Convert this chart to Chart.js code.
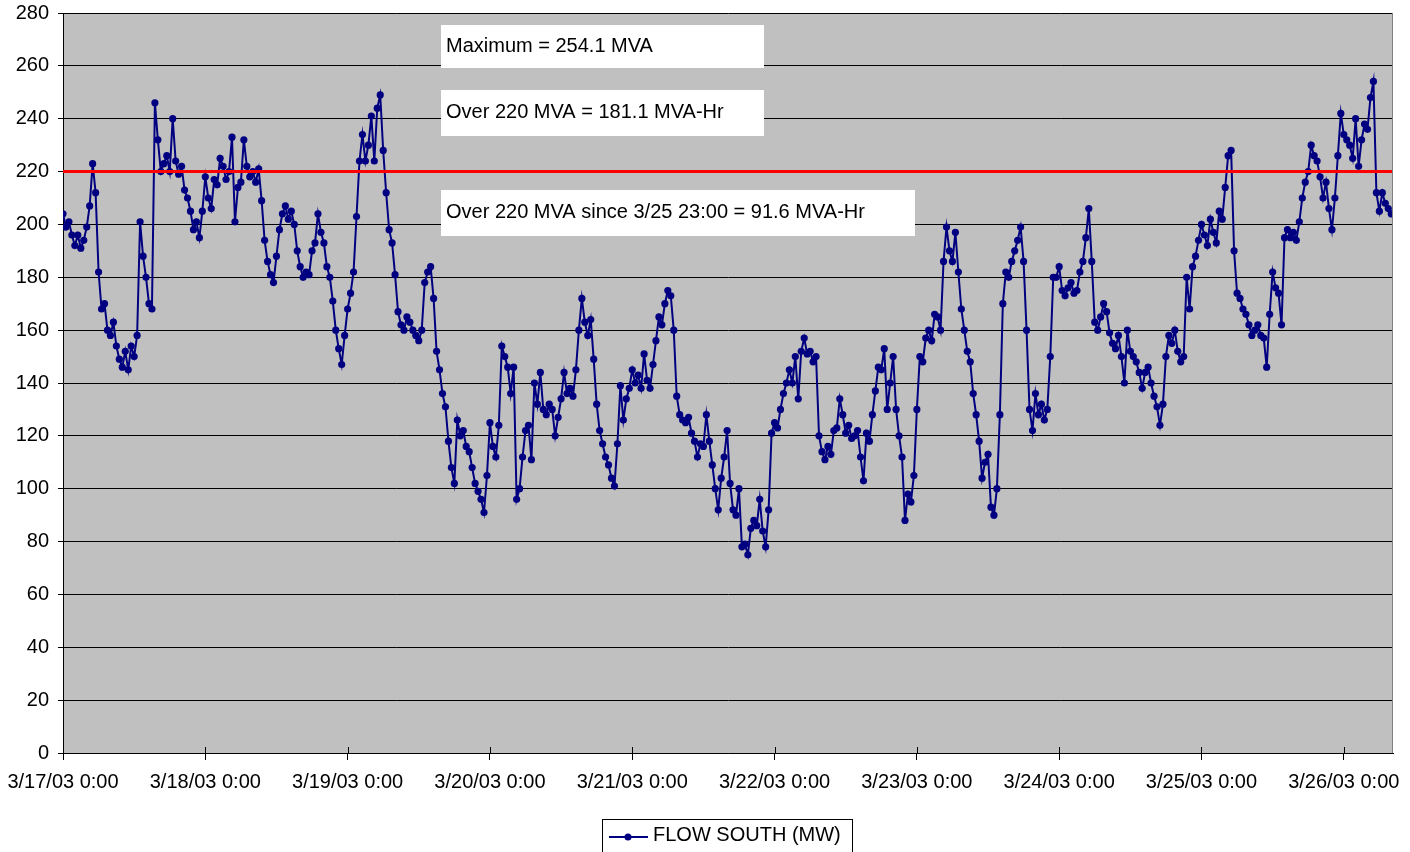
<!DOCTYPE html>
<html>
<head>
<meta charset="utf-8">
<title>FLOW SOUTH</title>
<script src="https://cdn.jsdelivr.net/npm/chart.js@4.4.0/dist/chart.umd.min.js"></script>
<style>
  html, body { margin: 0; padding: 0; background: #fff; }
  #wrap { width: 1410px; height: 852px; }
</style>
</head>
<body>
<div id="wrap"><canvas id="chart" width="1410" height="852"></canvas></div>
<script>
// half-hourly readings from 3/17/03 0:00 (index / 2 = hours since start)
var flowSouth = [
  204, 199, 201, 196, 192, 196, 191, 194, 199, 207,
  223, 212, 182, 168, 170, 160, 158, 163, 154, 149,
  146, 152, 145, 154, 150, 158, 201, 188, 180, 170,
  168, 246, 232, 220, 223, 226, 220, 240, 224, 219,
  222, 213, 210, 205, 198, 201, 195, 205, 218, 210,
  206, 217, 215, 225, 222, 217, 220, 233, 201, 214,
  216, 232, 222, 218, 220, 216, 221, 209, 194, 186,
  181, 178, 188, 198, 204, 207, 202, 205, 200, 190,
  184, 180, 182, 181, 190, 193, 204, 197, 193, 184,
  180, 171, 160, 153, 147, 158, 168, 174, 182, 203,
  224, 234, 224, 230, 241, 224, 244, 249, 228, 212,
  198, 193, 181, 167, 162, 160, 165, 163, 160, 158,
  156, 160, 178, 182, 184, 172, 152, 145, 136, 131,
  118, 108, 102, 126, 120, 122, 116, 114, 108, 102,
  99, 96, 91, 105, 125, 116, 112, 124, 154, 150,
  146, 136, 146, 96, 100, 112, 122, 124, 111, 140,
  132, 144, 130, 128, 132, 130, 120, 127, 134, 144,
  136, 138, 135, 145, 160, 172, 163, 158, 164, 149,
  132, 122, 117, 112, 109, 104, 101, 117, 139, 126,
  134, 138, 145, 140, 143, 138, 151, 141, 138, 147,
  156, 165, 162, 170, 175, 173, 160, 135, 128, 126,
  125, 127, 121, 118, 112, 117, 116, 128, 118, 109,
  100, 92, 104, 112, 122, 102, 92, 90, 100, 78,
  79, 75, 85, 88, 86, 96, 84, 78, 92, 121,
  125, 123, 130, 136, 140, 145, 140, 150, 134, 152,
  157, 151, 152, 148, 150, 120, 114, 111, 116, 113,
  122, 123, 134, 128, 121, 124, 119, 120, 122, 112,
  103, 121, 118, 128, 137, 146, 145, 153, 130, 140,
  150, 130, 120, 112, 88, 98, 95, 105, 130, 150,
  148, 157, 160, 156, 166, 165, 160, 186, 199, 190,
  186, 197, 182, 168, 160, 152, 148, 136, 128, 118,
  104, 110, 113, 93, 90, 100, 128, 170, 182, 180,
  186, 190, 194, 199, 186, 160, 130, 122, 136, 128,
  132, 126, 130, 150, 180, 180, 184, 175, 173, 176,
  178, 174, 175, 182, 186, 195, 206, 186, 163, 160,
  165, 170, 167, 159, 155, 153, 158, 150, 140, 160,
  152, 150, 148, 144, 138, 144, 146, 140, 135, 131,
  124, 132, 150, 158, 155, 160, 152, 148, 150, 180,
  168, 184, 188, 194, 200, 196, 192, 202, 197, 193,
  205, 202, 214, 226, 228, 190, 174, 172, 168, 166,
  162, 158, 160, 162, 158, 157, 146, 166, 182, 176,
  174, 162, 195, 198, 195, 197, 194, 201, 210, 216,
  220, 230, 226, 224, 218, 210, 216, 206, 198, 210,
  226, 242, 234, 232, 230, 225, 240, 222, 232, 238,
  236, 248, 254.1, 212, 205, 212, 208, 206, 204
];

var threshold = 220;
var lastHour = 224.3;

var tickLabels = [
  "3/17/03 0:00", "3/18/03 0:00", "3/19/03 0:00", "3/20/03 0:00", "3/21/03 0:00",
  "3/22/03 0:00", "3/23/03 0:00", "3/24/03 0:00", "3/25/03 0:00", "3/26/03 0:00"
];

var notes = [
  "Maximum = 254.1 MVA",
  "Over 220 MVA = 181.1 MVA-Hr",
  "Over 220 MVA since 3/25 23:00 = 91.6 MVA-Hr"
];

var seriesName = "FLOW SOUTH (MW)";

Chart.defaults.font.family = "'Liberation Sans', Arial, sans-serif";
Chart.defaults.font.size = 20;
Chart.defaults.color = "#000";

// grey plot area, text boxes and the boxed legend
var decor = {
  id: "decor",
  beforeDraw: function (chart) {
    var ctx = chart.ctx, a = chart.chartArea;
    ctx.save();
    ctx.fillStyle = "#fff";
    ctx.fillRect(0, 0, chart.width, chart.height);
    ctx.fillStyle = "#c0c0c0";
    ctx.fillRect(a.left, a.top, a.right - a.left, a.bottom - a.top);
    ctx.restore();
  },
  afterDraw: function (chart) {
    var ctx = chart.ctx, a = chart.chartArea, xs = chart.scales.x;
    ctx.save();
    // right edge of plot
    ctx.strokeStyle = "#808080";
    ctx.lineWidth = 1;
    ctx.beginPath();
    ctx.moveTo(a.right - 0.5, a.top);
    ctx.lineTo(a.right - 0.5, a.bottom);
    ctx.stroke();

    // x tick marks cross the axis
    ctx.strokeStyle = "#000";
    ctx.beginPath();
    xs.ticks.forEach(function (t) {
      var px = Math.round(xs.getPixelForValue(t.value)) + 0.5;
      ctx.moveTo(px, a.bottom - 6);
      ctx.lineTo(px, a.bottom);
    });
    ctx.stroke();

    // note boxes
    var boxes = [
      [441, 25, 323, 43, 46],
      [441, 90, 323, 46, 112],
      [441, 190, 474, 46, 212]
    ];
    ctx.font = "20px 'Liberation Sans', Arial, sans-serif";
    ctx.textBaseline = "middle";
    ctx.textAlign = "left";
    boxes.forEach(function (b, i) {
      ctx.fillStyle = "#fff";
      ctx.fillRect(b[0], b[1], b[2], b[3]);
      ctx.fillStyle = "#000";
      ctx.fillText(notes[i], b[0] + 5, b[4]);
    });

    // legend
    ctx.strokeStyle = "#000";
    ctx.lineWidth = 1;
    ctx.strokeRect(602.5, 819.5, 250, 40);
    ctx.strokeStyle = "#000080";
    ctx.lineWidth = 2;
    ctx.beginPath();
    ctx.moveTo(609, 837);
    ctx.lineTo(648, 837);
    ctx.stroke();
    ctx.fillStyle = "#000080";
    ctx.beginPath();
    ctx.arc(628, 837, 3.5, 0, Math.PI * 2);
    ctx.fill();
    ctx.fillStyle = "#000";
    ctx.fillText(seriesName, 653, 835);
    ctx.restore();
  }
};

var ctx = document.getElementById("chart").getContext("2d");
var chart = new Chart(ctx, {
  type: "line",
  data: {
    datasets: [
      {
        label: "220 MVA",
        data: [{ x: 0, y: threshold }, { x: lastHour, y: threshold }],
        borderColor: "#ff0000",
        borderWidth: 3,
        pointRadius: 0,
        order: 0
      },
      {
        label: seriesName,
        data: flowSouth.map(function (v, i) { return { x: i / 2, y: v }; }),
        borderColor: "#000080",
        borderWidth: 2,
        backgroundColor: "#000080",
        pointRadius: 3.6,
        pointBorderWidth: 0,
        pointBackgroundColor: "#000080",
        tension: 0,
        order: 1
      }
    ]
  },
  options: {
    responsive: false,
    animation: false,
    devicePixelRatio: 1,
    layout: { padding: { left: 0, right: 17, top: 13, bottom: 0 } },
    plugins: {
      legend: { display: false },
      tooltip: { enabled: false }
    },
    scales: {
      x: {
        type: "linear",
        min: 0,
        max: lastHour,
        grid: { drawOnChartArea: false, color: "#000", tickLength: 7 },
        border: { color: "#000" },
        ticks: {
          stepSize: 24,
          includeBounds: false,
          autoSkip: false,
          maxRotation: 0,
          padding: 10,
          callback: function (v) { return tickLabels[Math.round(v / 24)]; }
        },
        afterFit: function (s) {
          s.height = 99;
          s.paddingLeft = 0;
          s.paddingRight = 0;
        }
      },
      y: {
        min: 0,
        max: 280,
        grid: { color: "#000", tickLength: 5 },
        border: { color: "#000" },
        ticks: { stepSize: 20, padding: 9 },
        afterFit: function (s) {
          s.width = 63;
          s.paddingTop = 0;
          s.paddingBottom = 0;
        }
      }
    }
  },
  plugins: [decor]
});
</script>
</body>
</html>
